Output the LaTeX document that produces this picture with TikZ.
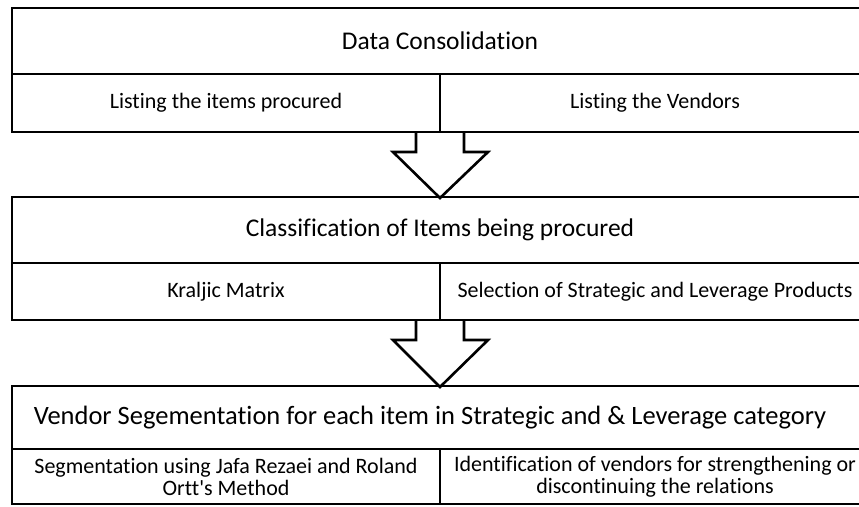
\documentclass[tikz,border=0pt]{standalone}
\usepackage{fontspec}
\setmainfont[Ligatures=NoCommon]{Carlito}
\begin{document}
\begin{tikzpicture}[x=1pt,y=-1pt,
  cell/.style={draw=black,line width=2.6pt,rectangle,anchor=north west,inner sep=0pt,outer sep=0pt},
  title/.style={font=\fontsize{25.5}{30}\selectfont},
  bigtitle/.style={font=\fontsize{26.5}{30}\selectfont},
  sub/.style={font=\fontsize{22}{22}\selectfont,align=center},
  bigarrow/.style={draw=black,line width=2.6pt,line join=miter}]
\useasboundingbox (0,0) rectangle (859,506);
\clip (0,0) rectangle (859,506);
% Box 1
\node[cell,minimum width=858pt,minimum height=66pt] (t1) at (12,8) {};
\node[cell,minimum width=428pt,minimum height=58pt] (l1) at (12,74) {};
\node[cell,minimum width=430pt,minimum height=58pt] (r1) at (440,74) {};
\node[title] (t1x) at (440,41) {Data Consolidation};
\node[sub] (l1x) at (l1.center) {Listing the items procured};
\node[sub] (r1x) at (r1.center) {Listing the Vendors};
% Box 2
\node[cell,minimum width=858pt,minimum height=66pt] (t2) at (12,197) {};
\node[cell,minimum width=428pt,minimum height=57pt] (l2) at (12,263) {};
\node[cell,minimum width=430pt,minimum height=57pt] (r2) at (440,263) {};
\node[title] (t2x) at (440,230) {Classification of Items being procured};
\node[sub] (l2x) at (l2.center) {Kraljic Matrix};
\node[sub] (r2x) at (r2.center) {Selection of Strategic and Leverage Products};
% Box 3
\node[cell,minimum width=858pt,minimum height=63pt] (t3) at (12,386) {};
\node[cell,minimum width=428pt,minimum height=55pt] (l3) at (12,449) {};
\node[cell,minimum width=430pt,minimum height=55pt] (r3) at (440,449) {};
\node[bigtitle] (t3x) at (430,418) {Vendor Segementation for each item in Strategic and \& Leverage category};
\node[sub] (l3x) at (l3.center) {Segmentation using Jafa Rezaei and Roland\\Ortt\textquotesingle s Method};
\node[sub] (r3x) at (r3.center) {Identification of vendors for strengthening or\\discontinuing the relations};
% Arrows
\coordinate (a1s) at (440,132);
\coordinate (a1t) at (440,198);
\draw[bigarrow] ([xshift=-24pt]a1s) -- ([xshift=-24pt,yshift=-20pt]a1s) -- ([xshift=-47pt,yshift=-20pt]a1s)
  -- (a1t) -- ([xshift=48pt,yshift=-20pt]a1s) -- ([xshift=24pt,yshift=-20pt]a1s) -- ([xshift=24pt]a1s);
\coordinate (a2s) at (440,320);
\coordinate (a2t) at (440,387);
\draw[bigarrow] ([xshift=-24pt]a2s) -- ([xshift=-24pt,yshift=-20pt]a2s) -- ([xshift=-47pt,yshift=-20pt]a2s)
  -- (a2t) -- ([xshift=48pt,yshift=-20pt]a2s) -- ([xshift=24pt,yshift=-20pt]a2s) -- ([xshift=24pt]a2s);
\end{tikzpicture}
\end{document}
